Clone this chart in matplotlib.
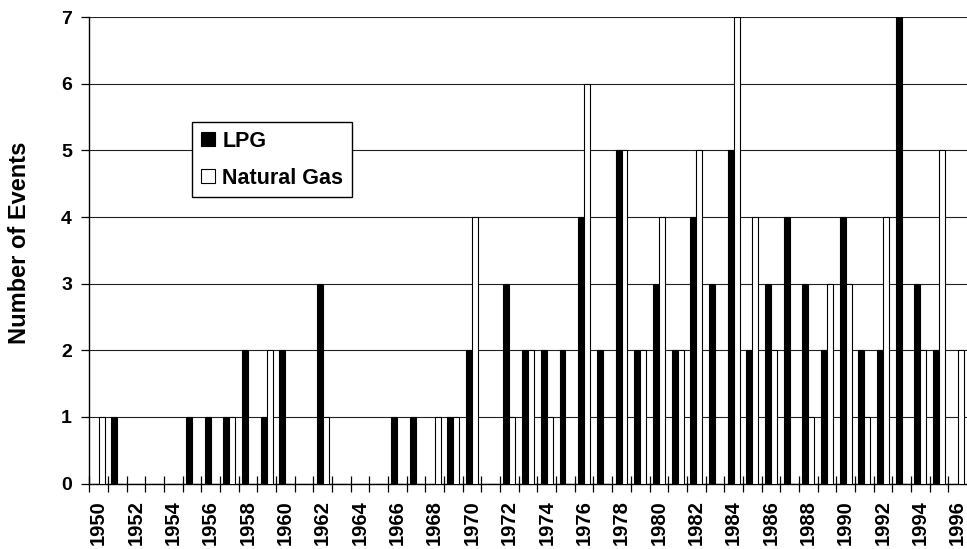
import numpy as np
import matplotlib
matplotlib.use("Agg")
import matplotlib.pyplot as plt

plt.rcParams['font.family'] = ['Liberation Sans', 'DejaVu Sans']
plt.rcParams['font.weight'] = 'bold'

# data
years = list(range(1950, 1997))
lpg = [0, 1, 0, 0, 0, 1, 1, 1, 2, 1,
       2, 0, 3, 0, 0, 0, 1, 1, 0, 1,
       2, 0, 3, 2, 2, 2, 4, 2, 5, 2,
       3, 2, 4, 3, 5, 2, 3, 4, 3, 2,
       4, 2, 2, 7, 3, 2, 0]
natural_gas = [1, 0, 0, 0, 0, 0, 0, 1, 0, 2,
               0, 0, 1, 0, 0, 0, 0, 0, 1, 1,
               4, 0, 1, 2, 1, 0, 6, 0, 5, 2,
               4, 2, 5, 0, 7, 4, 2, 0, 1, 3,
               3, 1, 4, 0, 2, 5, 2]
year_labels = [str(y) for y in years[::2]]

fig = plt.figure(figsize=(9.67, 5.49), dpi=100)
ax = fig.add_axes([0.0923, 0.1193, 0.9077, 0.8492])

x = np.arange(len(years))
w = 0.32
ax.bar(x - w / 2, lpg, width=w, color='black', edgecolor='black', lw=0.8,
       label='LPG', zorder=3)
ax.bar(x + w / 2, natural_gas, width=w, color='white', edgecolor='black', lw=0.8,
       label='Natural Gas', zorder=3)

ax.set_xlim(-0.5, len(years) - 0.5)
ax.set_ylim(0, 7)

# labels at every other year, tick marks at category boundaries
ax.set_xticks(x[::2])
ax.set_xticklabels(year_labels, rotation=90, fontsize=14.5, fontweight='bold')
ax.tick_params(axis='x', which='major', length=0, pad=12)
ax.set_xticks(np.arange(-0.5, len(years) - 0.5, 1.0), minor=True)
ax.tick_params(axis='x', which='minor', direction='inout', length=11, width=0.9)

ax.set_yticks(range(8))
ax.tick_params(axis='y', direction='out', length=6, width=0.9, pad=6.5, labelsize=14)

ax.yaxis.grid(True, color='#222222', lw=0.8)
ax.set_axisbelow(True)

ax.spines['right'].set_visible(False)
ax.spines['top'].set_visible(False)
ax.spines['left'].set_linewidth(1.0)
ax.spines['bottom'].set_linewidth(1.0)

ax.set_ylabel('Number of Events', fontsize=17, fontweight='bold', va='center')
ax.yaxis.set_label_coords(-0.080, 0.516)

leg = ax.legend(loc='upper left', bbox_to_anchor=(192 / 967, 1 - 122 / 549),
                bbox_transform=fig.transFigure, borderaxespad=0,
                prop={'size': 15.5, 'weight': 'bold'}, handlelength=0.65,
                handleheight=0.65, handletextpad=0.35, labelspacing=0.75,
                borderpad=0.4, fancybox=False, framealpha=1, edgecolor='black')
leg.get_frame().set_linewidth(1.0)
leg.set_zorder(5)

fig.savefig('out.png', dpi=100)
